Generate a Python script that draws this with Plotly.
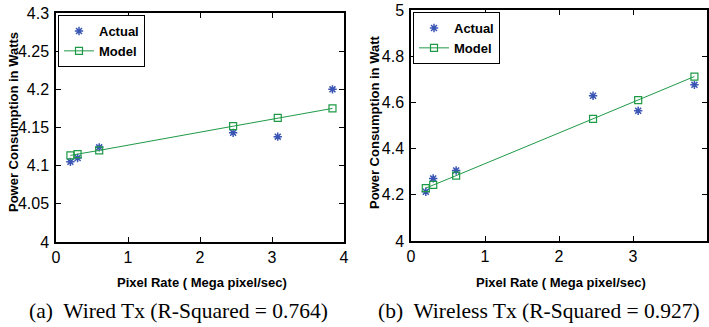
import plotly.graph_objects as go

# Data
wired_x = [0.2, 0.3, 0.6, 2.46, 3.08, 3.84]
wired_actual = [4.105, 4.110, 4.124, 4.143, 4.138, 4.200]
wired_model = [4.1135, 4.115, 4.120, 4.1517, 4.1625, 4.175]

wireless_x = [0.2, 0.3, 0.61, 2.46, 3.07, 3.83]
wireless_actual = [4.213, 4.271, 4.305, 4.629, 4.564, 4.676]
wireless_model = [4.229, 4.243, 4.283, 4.529, 4.610, 4.712]

left_yticks = [4, 4.05, 4.1, 4.15, 4.2, 4.25, 4.3]
left_ytext = ["4", "4.05", "4.1", "4.15", "4.2", "4.25", "4.3"]
right_yticks = [4, 4.2, 4.4, 4.6, 4.8, 5]
right_ytext = ["4", "4.2", "4.4", "4.6", "4.8", "5"]
xticks = [0, 1, 2, 3, 4]

BLUE = "#3a55b4"
GREEN = "#1e9a46"
SANS = "Liberation Sans, Arial"
TICKFONT = dict(family=SANS, size=16, color="black")
LABFONT = dict(family=SANS, size=13, color="black", weight="bold")
LEGFONT = dict(family=SANS, size=13, color="black", weight="bold")
CAPFONT = dict(family="Liberation Serif, Times New Roman", size=21.5, color="black")

fig = go.Figure()

fig.add_trace(go.Scatter(x=wired_x, y=wired_actual, mode="markers", name="Actual",
                         marker=dict(symbol="asterisk-open", size=7, color=BLUE, line=dict(width=1.5, color=BLUE)),
                         xaxis="x", yaxis="y", legend="legend"))
fig.add_trace(go.Scatter(x=wired_x, y=wired_model, mode="lines+markers", name="Model",
                         line=dict(color=GREEN, width=1),
                         marker=dict(symbol="square-open", size=7, color=GREEN, line=dict(width=1.2)),
                         xaxis="x", yaxis="y", legend="legend"))
fig.add_trace(go.Scatter(x=wireless_x, y=wireless_actual, mode="markers", name="Actual",
                         marker=dict(symbol="asterisk-open", size=7, color=BLUE, line=dict(width=1.5, color=BLUE)),
                         xaxis="x2", yaxis="y2", legend="legend2"))
fig.add_trace(go.Scatter(x=wireless_x, y=wireless_model, mode="lines+markers", name="Model",
                         line=dict(color=GREEN, width=1),
                         marker=dict(symbol="square-open", size=7, color=GREEN, line=dict(width=1.2)),
                         xaxis="x2", yaxis="y2", legend="legend2"))

axis_common = dict(showgrid=False, zeroline=False, showline=True, linecolor="black", linewidth=1.5,
                   mirror="ticks", ticks="inside", ticklen=5, tickcolor="black", tickwidth=1,
                   tickfont=TICKFONT, automargin=False)

def ann(text, x, y, font, angle=0):
    return dict(text=text, x=x / 709, y=1 - y / 327, xref="paper", yref="paper", showarrow=False,
                xanchor="center", yanchor="middle", font=font, textangle=angle)

fig.update_layout(
    width=709, height=327, margin=dict(l=0, r=0, t=0, b=0),
    paper_bgcolor="white", plot_bgcolor="white", showlegend=True,
    xaxis=dict(domain=[56 / 709, 344 / 709], range=[0, 4], tickvals=xticks, anchor="y", **axis_common),
    yaxis=dict(domain=[1 - 242 / 327, 1 - 13 / 327], range=[4, 4.3], tickvals=left_yticks, ticktext=left_ytext,
               anchor="x", ticklabelstandoff=2, **axis_common),
    xaxis2=dict(domain=[411 / 709, 707 / 709], range=[0, 4], tickvals=xticks, anchor="y2", **axis_common),
    yaxis2=dict(domain=[1 - 241 / 327, 1 - 10 / 327], range=[4, 5], tickvals=right_yticks, ticktext=right_ytext,
                anchor="x2", ticklabelstandoff=2, **axis_common),
    legend=dict(x=58 / 709, y=1 - 15 / 327, xanchor="left", yanchor="top", bgcolor="white",
                bordercolor="black", borderwidth=1, font=LEGFONT, tracegroupgap=0, itemwidth=30),
    legend2=dict(x=413 / 709, y=1 - 12 / 327, xanchor="left", yanchor="top", bgcolor="white",
                 bordercolor="black", borderwidth=1, font=LEGFONT, tracegroupgap=0, itemwidth=30),
    annotations=[
        ann("<b>Pixel Rate ( Mega pixel/sec)</b>", 202, 282, LABFONT),
        ann("<b>Pixel Rate ( Mega pixel/sec)</b>", 561, 282, LABFONT),
        ann("<b>Power Consumption in Watts</b>", 13, 122, LABFONT, -90),
        ann("<b>Power Consumption in Watt</b>", 374, 122, LABFONT, -90),
        ann("(a)  Wired Tx (R-Squared = 0.764)", 178, 311, CAPFONT),
        ann("(b)  Wireless Tx (R-Squared = 0.927)", 539, 311, CAPFONT),
    ],
)

fig.write_html("out.html")
